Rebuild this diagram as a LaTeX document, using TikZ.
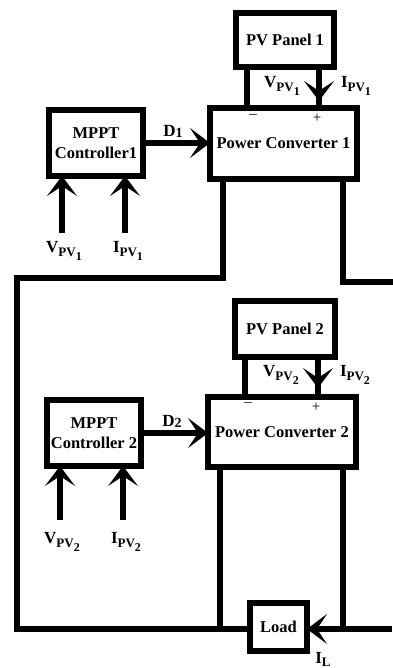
\documentclass[tikz,border=0pt]{standalone}
\usepackage{fontspec}
\setmainfont{Liberation Serif}
\usetikzlibrary{arrows.meta}
\newcommand\vsub[2]{#1\raisebox{-4pt}{\fontsize{13}{13}\selectfont PV\raisebox{-4pt}{\fontsize{12}{12}\selectfont #2}}}
\tikzset{
  blk/.style={draw, line width=5.5pt, inner sep=0pt, outer sep=0pt, align=center,
    font=\fontsize{16.5}{20}\selectfont\bfseries},
  wire/.style={line width=5.5pt, line cap=rect},
  arr/.style={line width=5.5pt, -{Stealth[length=20pt,width=30pt,inset=10pt]}},
  lbl/.style={inner sep=0pt, font=\fontsize{17}{18}\selectfont\bfseries},
  pm/.style={inner sep=0pt, font=\fontsize{15}{15}\selectfont}
}
\begin{document}
\begin{tikzpicture}[x=1pt,y=-1pt]
\useasboundingbox[fill=white] (0,0) rectangle (392,668);
% blocks
\node[blk, minimum width=98pt, minimum height=54pt] (pv1) at (285,40) {PV Panel 1};
\node[blk, minimum width=147pt, minimum height=71pt] (pc1) at (283.5,143.5) {Power Converter 1};
\node[blk, minimum width=94pt, minimum height=66pt] (mp1) at (96,143) {MPPT\\Controller1};
\node[blk, minimum width=100pt, minimum height=56pt] (pv2) at (285,329) {PV Panel 2};
\node[blk, minimum width=148pt, minimum height=70pt] (pc2) at (282,432) {Power Converter 2};
\node[blk, minimum width=94pt, minimum height=66pt] (mp2) at (94,433) {MPPT\\Controller 2};
\node[blk, minimum width=57pt, minimum height=48pt] (load) at (278.5,627) {Load};
% free ends
\coordinate (r1) at (392,282);
\coordinate (l1) at (17,278);
\coordinate (lb) at (17,629);
\coordinate (rb) at (392,629);
\coordinate (v1s) at (62,233);
\coordinate (i1s) at (125,233);
\coordinate (v2s) at (60,520);
\coordinate (i2s) at (123,520);
% PV1 to PC1
\draw[wire] (pv1.south -| 247,0) -- (pc1.north -| 247,0);
\draw[wire] (pv1.south -| 319,0) -- (pc1.north -| 319,0);
\draw[arr] (pv1.south -| 319,0) -- (319,101);
\node[lbl] (v1l) at (282,86) {\vsub{V}{1}};
\node[lbl] (i1l) at (356,86) {\vsub{I}{1}};
\node[pm] (m1) at (253,117) {--};
\node[pm] (p1) at (317,118) {+};
% MPPT1
\draw[arr] (mp1.east) -- (pc1.west |- mp1.east);
\node[lbl] (d1) at (173,131) {D\raisebox{-1pt}{\fontsize{14}{14}\selectfont 1}};
\draw[arr] (v1s) -- (v1s |- mp1.south);
\draw[arr] (i1s) -- (i1s |- mp1.south);
\node[lbl] (v1b) at (64,251) {\vsub{V}{1}};
\node[lbl] (i1b) at (128,251) {\vsub{I}{1}};
% PC1 outputs
\draw[wire] (pc1.south -| 223,0) |- (l1) -- (lb) -- (load.west |- lb);
\draw[wire] (pc1.south -| 343,0) |- (r1);
% PV2 to PC2
\draw[wire] (pv2.south -| 245,0) -- (pc2.north -| 245,0);
\draw[wire] (pv2.south -| 318,0) -- (pc2.north -| 318,0);
\draw[arr] (pv2.south -| 318,0) -- (318,388);
\node[lbl] (v2l) at (281,375) {\vsub{V}{2}};
\node[lbl] (i2l) at (355,375) {\vsub{I}{2}};
\node[pm] (m2) at (248,405) {--};
\node[pm] (p2) at (316,407) {+};
% MPPT2
\draw[arr] (mp2.east) -- (pc2.west |- mp2.east);
\node[lbl] (d2) at (172,421) {D\raisebox{-1pt}{\fontsize{14}{14}\selectfont 2}};
\draw[arr] (v2s) -- (v2s |- mp2.south);
\draw[arr] (i2s) -- (i2s |- mp2.south);
\node[lbl] (v2b) at (62,542) {\vsub{V}{2}};
\node[lbl] (i2b) at (126,542) {\vsub{I}{2}};
% PC2 outputs
\draw[wire] (pc2.south -| 220,0) -- (220,629);
\draw[wire] (pc2.south -| 343,0) -- (343,629);
\draw[arr] (rb) -- (load.east |- rb);
\node[lbl] (il) at (323,659) {I\raisebox{-3pt}{\fontsize{13}{13}\selectfont L}};
\end{tikzpicture}
\end{document}
